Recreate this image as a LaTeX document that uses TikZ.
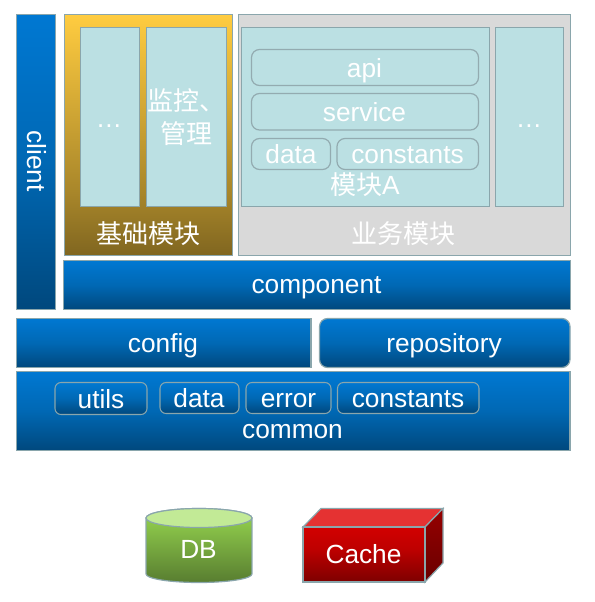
\documentclass[tikz,border=0pt]{standalone}
\usepackage{fontspec}
\setmainfont{Liberation Sans}
\newfontfamily\cjk{Noto Sans CJK SC}
\definecolor{edgec}{HTML}{8AA6AC}
\definecolor{innerc}{HTML}{93ABB0}
\definecolor{panelc}{HTML}{BBE0E3}
\definecolor{greyc}{HTML}{D9D9D9}
\definecolor{blueA}{RGB}{0,72,125}
\definecolor{blueB}{RGB}{0,104,180}
\definecolor{blueC}{RGB}{0,120,210}
\definecolor{yelA}{RGB}{128,102,32}
\definecolor{yelB}{RGB}{168,134,42}
\definecolor{yelC}{RGB}{255,204,64}
\definecolor{grnA}{RGB}{88,125,48}
\definecolor{grnC}{RGB}{152,216,80}
\definecolor{grnT}{RGB}{194,234,150}
\definecolor{redA}{RGB}{125,0,0}
\definecolor{redB}{RGB}{190,0,0}
\definecolor{redC}{RGB}{210,0,0}
\definecolor{sideA}{RGB}{105,0,0}
\definecolor{sideC}{RGB}{150,0,0}
\definecolor{redT}{RGB}{229,50,50}
\pgfdeclareverticalshading{blueg}{100bp}{color(0bp)=(blueA); color(25bp)=(blueA); color(50bp)=(blueB); color(75bp)=(blueC); color(100bp)=(blueC)}
\pgfdeclareverticalshading{yellowg}{100bp}{color(0bp)=(yelA); color(25bp)=(yelA); color(38bp)=(yelB); color(75bp)=(yelC); color(100bp)=(yelC)}
\pgfdeclareverticalshading{greeng}{100bp}{color(0bp)=(grnA); color(25bp)=(grnA); color(75bp)=(grnC); color(100bp)=(grnC)}
\pgfdeclareverticalshading{redg}{100bp}{color(0bp)=(redA); color(25bp)=(redA); color(55bp)=(redB); color(75bp)=(redC); color(100bp)=(redC)}
\pgfdeclareverticalshading{sideg}{100bp}{color(0bp)=(sideA); color(25bp)=(sideA); color(75bp)=(sideC); color(100bp)=(sideC)}
\tikzset{
  px/.style={inner sep=0pt,outer sep=0pt,line width=.9pt,draw=edgec},
  bluebar/.style={px,shading=blueg},
  bluepill/.style={bluebar,rounded corners=6pt},
  yellowpanel/.style={px,shading=yellowg},
  greypanel/.style={px,fill=greyc},
  panel/.style={px,fill=panelc},
  pill/.style={px,draw=innerc,fill=panelc,rounded corners=6pt},
  chip/.style={px,line width=.8pt,shading=blueg,rounded corners=4.5pt},
  lbl/.style={text=white,font=\fontsize{19.7}{24}\selectfont,anchor=base,inner sep=0pt},
  cjklbl/.style={text=white,font=\fontsize{19.5}{25}\selectfont\cjk,anchor=base,inner sep=0pt},
}
\newcommand{\pxbox}[6]{%
  \pgfmathsetmacro{\pxw}{(#5-#3)*0.75}%
  \pgfmathsetmacro{\pxh}{(#6-#4)*0.75}%
  \node[#1,minimum width=\pxw pt,minimum height=\pxh pt] (#2) at ({(#3+#5)/2},{(#4+#6)/2}) {};}
\begin{document}
\begin{tikzpicture}[x=.75pt,y=-.75pt]
\useasboundingbox (0,0) rectangle (594,602);
% upper layers
\pxbox{bluebar}{client}{16.5}{14.5}{55.5}{309.5}
\pxbox{yellowpanel}{base}{64.5}{14.5}{232.5}{255.5}
\pxbox{panel}{baseA}{80.5}{27.5}{139.5}{206.5}
\pxbox{panel}{baseB}{146.5}{27.5}{226.5}{206.5}
\pxbox{greypanel}{biz}{238.5}{14.5}{570.5}{255.5}
\pxbox{panel}{modA}{241.5}{27.5}{489.5}{206.5}
\pxbox{panel}{modB}{495.5}{27.5}{563.5}{206.5}
\pxbox{pill}{api}{251.5}{49.5}{478.5}{85.5}
\pxbox{pill}{service}{251.5}{93.5}{478.5}{130}
\pxbox{pill}{dataA}{251.5}{138.5}{330.5}{169.5}
\pxbox{pill}{constA}{337}{138.5}{478.5}{169.5}
\pxbox{bluebar}{component}{63.5}{260.5}{570.5}{309.5}
% lower layers
\pxbox{bluebar}{config}{16.5}{318.5}{311}{367.5}
\pxbox{bluepill}{repo}{319.5}{318.5}{570}{367.5}
\pxbox{bluebar}{common}{16.5}{371.5}{570}{450.5}
\pxbox{chip}{utils}{55}{382.5}{147}{414.5}
\pxbox{chip}{dataC}{160}{382.5}{239}{413.5}
\pxbox{chip}{errorC}{246}{382.5}{331}{413.5}
\pxbox{chip}{constC}{337.5}{382.5}{479}{413.5}
% labels
\node[lbl,rotate=-90] (tclient) at (27,161) {client};
\node[lbl] (tdots1) at (109,128) {…};
\node[cjklbl,align=center] (tmon) at (186,144) {监控、\\管理};
\node[cjklbl] (tbase) at (148,243) {基础模块};
\node[cjklbl] (tbiz) at (403,243) {业务模块};
\node[lbl] (tapi) at (364.5,78) {api};
\node[lbl] (tservice) at (364.5,122) {service};
\node[lbl] (tdataA) at (291,164) {data};
\node[lbl] (tconstA) at (407.5,164) {constants};
\node[cjklbl] (tmodA) at (365,195) {模块{\normalfont\fontsize{19.7}{24}\selectfont A}};
\node[lbl] (tdots2) at (529,128) {…};
\node[lbl] (tcomponent) at (316.5,293) {component};
\node[lbl] (tconfig) at (163,352) {config};
\node[lbl] (trepo) at (444,352) {repository};
\node[lbl] (tutils) at (101,408) {utils};
\node[lbl] (tdataC) at (199,407) {data};
\node[lbl] (terrorC) at (288.5,407) {error};
\node[lbl] (tconstC) at (408,407) {constants};
\node[lbl] (tcommon) at (292.5,438) {common};
% database
\path[px,shading=greeng] (146,518) -- (146,574) arc[start angle=180,end angle=360,x radius=53,y radius=-8.5] -- (252,518) arc[start angle=0,end angle=180,x radius=53,y radius=-9.5] -- cycle;
\path[px,fill=grnT] (199,518) ellipse[x radius=53,y radius=-9.5];
\node[lbl] (tdb) at (198.5,558) {DB};
% cache
\path[px,fill=redT] (303,527) -- (321,508.5) -- (443,508.5) -- (425,527) -- cycle;
\path[px,shading=sideg] (425,527) -- (443,508.5) -- (443,563) -- (425,582) -- cycle;
\path[px,shading=redg] (303,527) rectangle (425,582);
\node[lbl] (tcache) at (363.5,563) {Cache};
\end{tikzpicture}
\end{document}
